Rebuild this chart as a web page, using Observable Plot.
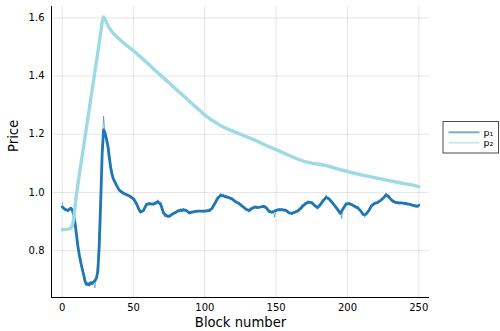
<!DOCTYPE html>
<html><head><meta charset="utf-8">
<script src="https://cdn.jsdelivr.net/npm/d3@7"></script>
<script src="https://cdn.jsdelivr.net/npm/@observablehq/plot@0.6"></script>
<style>
body{margin:0;background:#fff;}
#wrap{position:relative;width:500px;height:331px;font-family:"DejaVu Sans",sans-serif;}
#legend{position:absolute;left:0;top:0;}
</style>
</head><body><div id="wrap"></div>
<script>
const xTicks = [0, 50, 100, 150, 200, 250];
const yTicks = [0.8, 1.0, 1.2, 1.4, 1.6];
const xDomain = [-7.5, 257.5];
const yDomain = [0.639, 1.639];
const seriesNames = ["p\u2081", "p\u2082"];
const colors = ["#1f77b4", "#9edae5"];

// p1 raw (one value per block, 0..250)
const p1Raw = [
0.965,0.948,0.935,0.944,0.932,0.942,0.950,0.938,0.930,0.905,
0.862,0.820,0.792,0.770,0.745,0.725,0.700,0.690,0.678,0.692,
0.684,0.695,0.688,0.672,0.712,0.760,0.880,1.020,1.150,1.262,
1.205,1.190,1.172,1.150,1.100,1.075,1.050,1.038,1.030,1.015,
1.010,1.002,0.998,1.003,0.992,0.996,0.988,0.990,0.980,0.985,
0.975,0.970,0.958,0.945,0.935,0.928,0.940,0.935,0.948,0.962,
0.955,0.966,0.958,0.963,0.955,0.968,0.960,0.975,0.962,0.968,
0.945,0.925,0.915,0.925,0.912,0.922,0.915,0.930,0.922,0.935,
0.928,0.942,0.935,0.945,0.932,0.946,0.935,0.940,0.930,0.925,
0.935,0.928,0.938,0.930,0.940,0.932,0.938,0.933,0.940,0.931,
0.938,0.934,0.941,0.935,0.936,0.948,0.952,0.966,0.972,0.985,
0.982,0.998,0.986,0.994,0.982,0.990,0.980,0.986,0.975,0.982,
0.972,0.968,0.972,0.960,0.966,0.952,0.956,0.945,0.948,0.936,
0.940,0.932,0.948,0.940,0.952,0.945,0.955,0.944,0.953,0.946,
0.955,0.948,0.956,0.945,0.940,0.930,0.938,0.928,0.935,0.915,
0.942,0.936,0.945,0.938,0.946,0.935,0.942,0.932,0.940,0.926,
0.932,0.924,0.935,0.928,0.940,0.932,0.948,0.940,0.958,0.950,
0.966,0.958,0.972,0.962,0.970,0.958,0.962,0.950,0.955,0.942,
0.952,0.962,0.968,0.978,0.975,0.992,0.980,0.982,0.970,0.972,
0.958,0.960,0.945,0.948,0.930,0.935,0.910,0.950,0.955,0.966,
0.958,0.968,0.955,0.962,0.950,0.956,0.945,0.952,0.940,0.942,
0.928,0.930,0.915,0.930,0.935,0.942,0.950,0.958,0.955,0.968,
0.960,0.970,0.966,0.976,0.975,0.985,0.982,0.998,0.990,0.992,
0.978,0.975,0.965,0.972,0.960,0.970,0.958,0.968,0.960,0.966,
0.958,0.965,0.956,0.962,0.952,0.960,0.950,0.958,0.948,0.955,
0.960];

// p1 smoothed
const p1SmoothBlock = [0,2,4,6,7,8,9,10,11,12,13,14,15,16,17,18,19,20,21,22,23,24,25,26,27,28,29,30,31,32,33,34,35,36,38,40,42,44,46,48,50,52,54,55,57,59,61,63,65,67,69,71,73,75,77,79,81,83,85,87,89,91,93,95,97,100,103,105,107,109,111,113,115,117,119,121,123,125,127,129,131,133,135,137,139,141,143,145,147,149,151,153,155,157,159,161,163,165,167,169,171,173,175,177,179,181,183,185,187,189,191,193,195,197,199,201,203,205,207,209,211,213,215,217,219,221,223,225,227,229,231,233,235,237,239,241,243,245,247,249,250];
const p1SmoothValue = [0.950,0.942,0.938,0.946,0.940,0.925,0.895,0.855,0.815,0.785,0.760,0.738,0.718,0.695,0.684,0.686,0.683,0.690,0.687,0.692,0.698,0.705,0.730,0.820,0.970,1.130,1.215,1.205,1.185,1.160,1.120,1.085,1.060,1.045,1.025,1.008,1.000,0.995,0.990,0.985,0.978,0.962,0.940,0.933,0.938,0.958,0.962,0.960,0.962,0.968,0.960,0.930,0.920,0.918,0.925,0.930,0.936,0.938,0.940,0.938,0.930,0.932,0.934,0.936,0.936,0.936,0.938,0.945,0.962,0.980,0.990,0.988,0.985,0.982,0.978,0.970,0.965,0.958,0.950,0.942,0.938,0.945,0.950,0.948,0.950,0.952,0.948,0.935,0.932,0.936,0.940,0.941,0.940,0.938,0.930,0.928,0.932,0.936,0.944,0.955,0.963,0.967,0.965,0.955,0.948,0.958,0.972,0.983,0.978,0.967,0.955,0.942,0.928,0.945,0.960,0.962,0.958,0.952,0.948,0.938,0.924,0.925,0.938,0.955,0.962,0.965,0.972,0.980,0.992,0.985,0.973,0.967,0.965,0.964,0.963,0.962,0.960,0.957,0.955,0.952,0.956];

// p2
const p2Block = [0,2,4,6,7,8,10,12,14,16,18,20,22,24,26,28,29,30,33,36,40,45,50,55,60,65,70,75,80,85,90,95,100,105,110,115,120,125,130,135,140,145,150,155,160,165,170,175,180,185,190,195,200,205,210,215,220,225,230,235,240,245,250];
const p2Value = [0.872,0.873,0.874,0.877,0.885,0.905,0.995,1.060,1.125,1.190,1.255,1.320,1.385,1.450,1.515,1.585,1.603,1.595,1.565,1.545,1.527,1.505,1.487,1.465,1.443,1.420,1.398,1.376,1.354,1.332,1.310,1.288,1.266,1.248,1.233,1.220,1.210,1.200,1.190,1.180,1.168,1.157,1.147,1.136,1.125,1.115,1.106,1.101,1.097,1.092,1.085,1.078,1.072,1.066,1.060,1.055,1.050,1.045,1.040,1.035,1.030,1.026,1.020];

const raw = p1Raw.map((v, i) => ({block: i, value: v}));
const smooth1 = p1SmoothBlock.map((b, i) => ({block: b, value: p1SmoothValue[i]}));
const smooth2 = p2Block.map((b, i) => ({block: b, value: p2Value[i]}));

const chart = Plot.plot({
  width: 500,
  height: 331,
  marginLeft: 51,
  marginRight: 71,
  marginTop: 6,
  marginBottom: 34,
  style: {fontFamily: "DejaVu Sans, sans-serif", fontSize: "10px", color: "#000", background: "#fff"},
  x: {domain: xDomain, ticks: xTicks, tickSize: 0, tickPadding: 6.5, grid: true, label: null, tickFormat: d => String(d)},
  y: {domain: yDomain, ticks: yTicks, tickSize: 0, tickPadding: 7, grid: true, label: null, tickFormat: d3.format(".1f")},
  marks: [
    Plot.ruleX([xDomain[0]], {stroke: "#000", strokeWidth: 1}),
    Plot.ruleY([yDomain[0]], {stroke: "#000", strokeWidth: 1}),
    Plot.line(smooth1, {x: "block", y: "value", stroke: colors[0], strokeWidth: 2.8}),
    Plot.line(raw, {x: "block", y: "value", stroke: colors[0], strokeWidth: 1, strokeOpacity: 0.55}),
    Plot.line(smooth2, {x: "block", y: "value", stroke: colors[1], strokeWidth: 3.4}),
    Plot.text(["Block number"], {frameAnchor: "bottom", dy: 29, fontSize: 13.2, fill: "#000"}),
    Plot.text(["Price"], {frameAnchor: "left", dx: -38, rotate: -90, fontSize: 13.2, fill: "#000"})
  ]
});
const wrap = document.getElementById("wrap");
wrap.appendChild(chart);

// legend
const ns = "http://www.w3.org/2000/svg";
const lg = document.createElementNS(ns, "svg");
lg.setAttribute("id", "legend");
lg.setAttribute("width", 500);
lg.setAttribute("height", 331);
lg.style.pointerEvents = "none";
const box = document.createElementNS(ns, "rect");
box.setAttribute("x", 443); box.setAttribute("y", 121.5);
box.setAttribute("width", 55.5); box.setAttribute("height", 31.5);
box.setAttribute("fill", "#fff"); box.setAttribute("stroke", "#4a4a4a"); box.setAttribute("stroke-width", 1);
lg.appendChild(box);
const rowsY = [132.3, 142.7];
const legendOpacity = [0.6, 0.55];
seriesNames.forEach((name, i) => {
  const ln = document.createElementNS(ns, "line");
  ln.setAttribute("x1", 448.5); ln.setAttribute("x2", 479.5);
  ln.setAttribute("y1", rowsY[i]); ln.setAttribute("y2", rowsY[i]);
  ln.setAttribute("stroke", colors[i]); ln.setAttribute("stroke-width", 2);
  ln.setAttribute("stroke-opacity", legendOpacity[i]);
  lg.appendChild(ln);
  const t = document.createElementNS(ns, "text");
  t.setAttribute("x", 483.5); t.setAttribute("y", rowsY[i] + 3.4);
  t.setAttribute("font-size", "9.5px"); t.setAttribute("font-family", "DejaVu Sans, sans-serif");
  t.setAttribute("fill", "#000");
  t.textContent = name;
  lg.appendChild(t);
});
wrap.appendChild(lg);
</script>
</body></html>
